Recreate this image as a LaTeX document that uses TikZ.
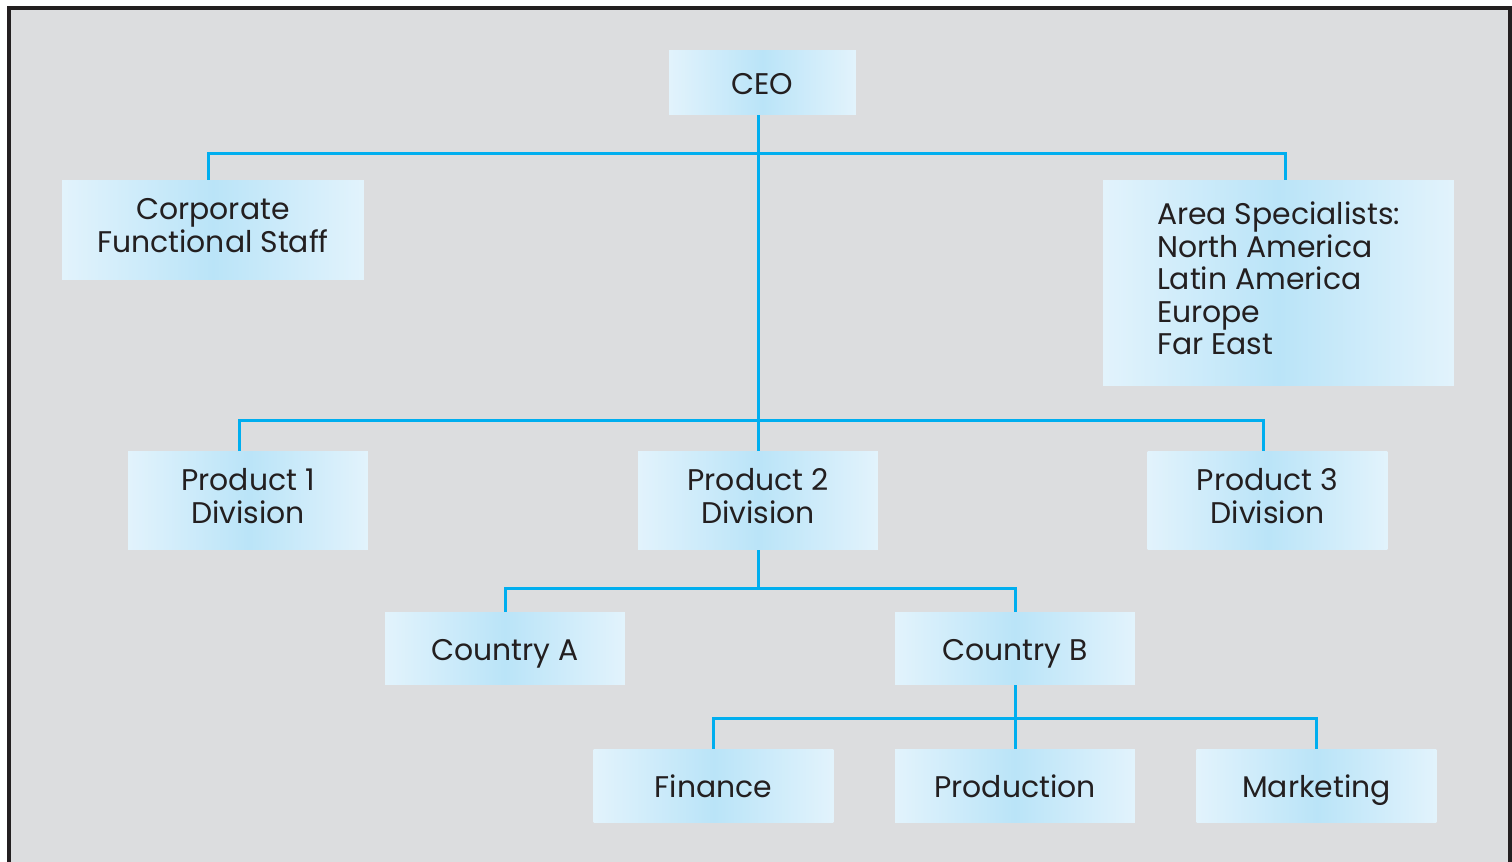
\documentclass[tikz,border=0pt]{standalone}
\usepackage{fontspec}
\setmainfont{Poppins}
\usetikzlibrary{positioning,calc}
\definecolor{bggray}{HTML}{DCDDDF}
\definecolor{framec}{HTML}{231F20}
\definecolor{linec}{HTML}{00AEEF}
\definecolor{boxedge}{HTML}{E2F3FC}
\definecolor{boxmid}{HTML}{BAE4F8}
\definecolor{txt}{HTML}{231F20}
\newcommand\boxstrut{\rule[-5pt]{0pt}{24.2pt}}

\begin{document}
\begin{tikzpicture}[x=0.02cm,y=-0.02cm,
  unit/.style={left color=boxedge,right color=boxedge,middle color=boxmid,
    text=txt,inner sep=0pt,align=center,
    font=\fontsize{17}{18.5}\selectfont,
    execute at begin node=\boxstrut,execute at end node=\boxstrut},
  conn/.style={linec,line width=0.06cm}]
\useasboundingbox (0,0) rectangle (1512,862);
\fill[white] (0,0) rectangle (1512,862);
\draw[framec,fill=bggray,line width=0.09cm] (9,8) rectangle (1510,880);

\node[unit,minimum width=3.74cm,minimum height=1.3cm] (ceo) at (762.5,82.5) {CEO};
\node[unit,minimum width=6.04cm,minimum height=2cm] (corp) at (213,230) {Corporate\\Functional Staff};
\node[unit,minimum width=7.02cm,minimum height=4.12cm,align=left] (area) at (1278.5,283)
  {Area Specialists:\\North America\\Latin America\\Europe\\Far East};
\node[unit,minimum width=4.8cm,minimum height=1.98cm] (p1) at (248,500.5) {Product 1\\Division};
\node[unit,minimum width=4.8cm,minimum height=1.98cm] (p2) at (758,500.5) {Product 2\\Division};
\node[unit,minimum width=4.8cm,minimum height=1.98cm] (p3) at (1267.5,500.5) {Product 3\\Division};
\node[unit,minimum width=4.8cm,minimum height=1.46cm] (ca) at (505,648.5) {Country A};
\node[unit,minimum width=4.8cm,minimum height=1.46cm] (cb) at (1015,648.5) {Country B};
\node[unit,minimum width=4.8cm,minimum height=1.46cm] (fin) at (713.5,785.5) {Finance};
\node[unit,minimum width=4.8cm,minimum height=1.46cm] (prod) at (1015,785.5) {Production};
\node[unit,minimum width=4.8cm,minimum height=1.46cm] (mkt) at (1316.5,785.5) {Marketing};

\coordinate (b1l) at (208,153);
\coordinate (b1r) at (1285,153);
\coordinate (b2l) at (239,420);
\coordinate (b2r) at (1263,420);
\coordinate (b3) at (0,588);
\coordinate (b4) at (0,718);

\draw[conn] (p2.north |- ceo.south) -- (p2.north);
\draw[conn] (corp.north -| b1l) -- (b1l) -- (b1r) -- (area.north -| b1r);
\draw[conn] (p1.north -| b2l) -- (b2l) -- (b2r) -- (p3.north -| b2r);
\draw[conn] (p2.south) -- (p2.south |- b3);
\draw[conn] (ca.north) -- (ca.north |- b3) -- (cb.north |- b3) -- (cb.north);
\draw[conn] (cb.south) -- (prod.north);
\draw[conn] (fin.north) -- (fin.north |- b4) -- (mkt.north |- b4) -- (mkt.north);
\end{tikzpicture}
\end{document}
